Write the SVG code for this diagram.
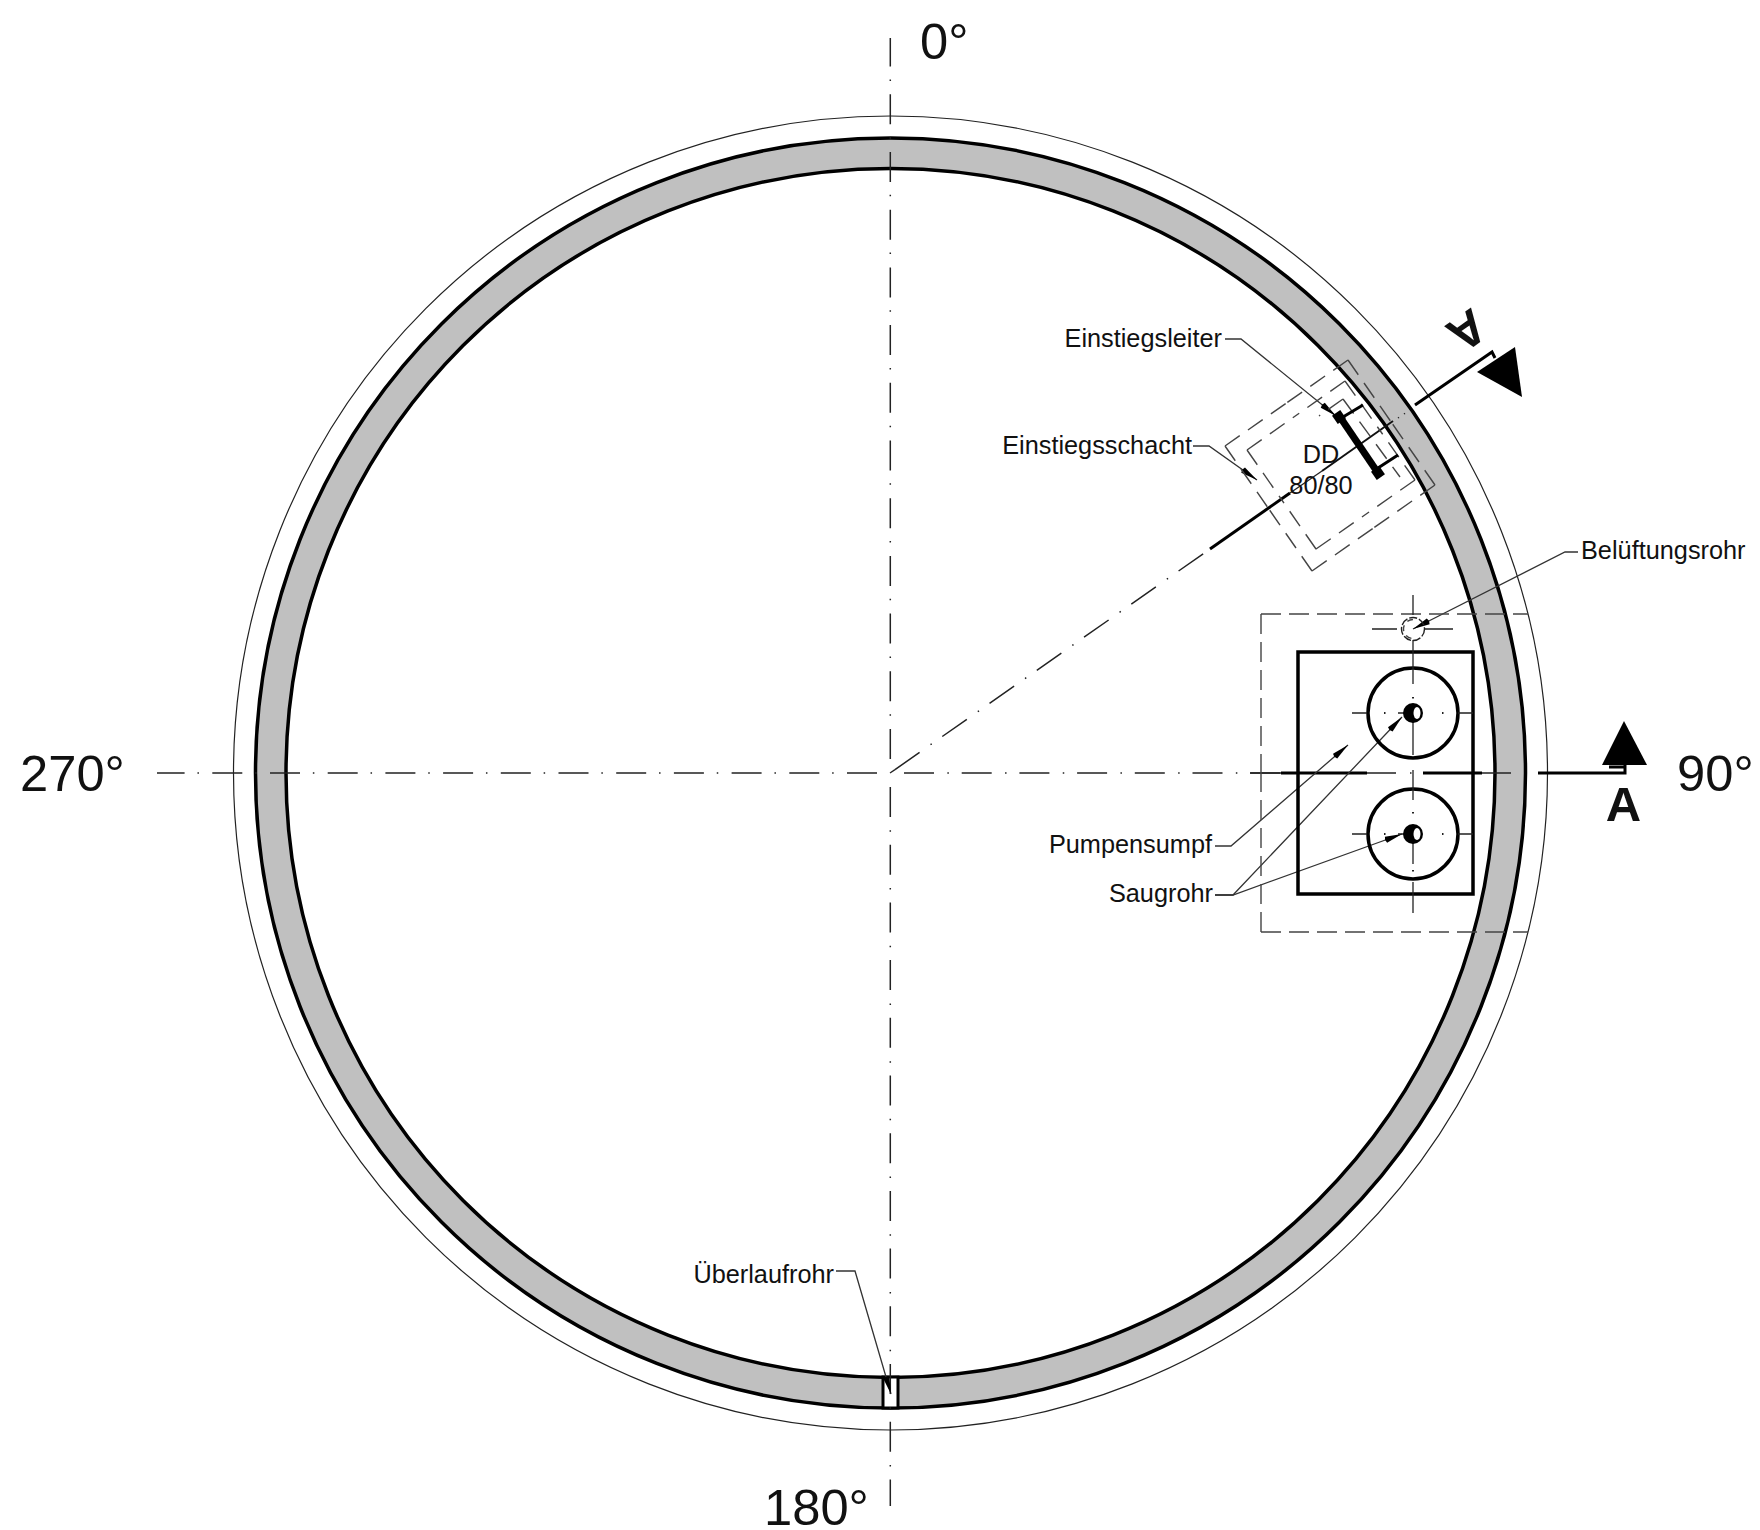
<svg xmlns="http://www.w3.org/2000/svg" width="1760" height="1530" viewBox="0 0 1760 1530">
<style>
text{font-family:"Liberation Sans",Arial,sans-serif;fill:#111}
.l{font-size:25.3px}.b{font-size:50.7px}
.hv{font-size:49px;font-weight:bold}
.th{stroke:#222;stroke-width:1.3;fill:none}
.cd{stroke:#222;stroke-width:1.5;fill:none;stroke-dasharray:30 13.35 1.5 12.85}
.ds{stroke:#444;stroke-width:1.4;fill:none;stroke-dasharray:18 10}
.k{stroke:#000;stroke-width:3;fill:none}
.k2{stroke:#111;stroke-width:2;fill:none}
.ld{stroke:#333;stroke-width:1.3;fill:none;marker-end:url(#ah)}
.pt{stroke:#222;stroke-width:1.5;fill:none;stroke-dasharray:1.5 60}
</style>
<defs>
<marker id="ah" markerUnits="userSpaceOnUse" markerWidth="20" markerHeight="8" refX="20" refY="4" orient="auto" viewBox="0 0 20 8"><path d="M2 4L3 0.8L20 4L3 7.2Z" fill="#000"/></marker>
</defs>
<rect width="1760" height="1530" fill="#fff"/>
<g id="ring">
<circle cx="890.5" cy="773" r="657" fill="none" stroke="#222" stroke-width="1.2"/>
<circle cx="890.5" cy="773" r="619.75" fill="none" stroke="#c0c0c0" stroke-width="30"/>
<circle cx="890.5" cy="773" r="635" fill="none" stroke="#000" stroke-width="3.5"/>
<circle cx="890.5" cy="773" r="604.5" fill="none" stroke="#000" stroke-width="3.5"/>
</g>
<g id="ueberlauf"><rect x="883" y="1377" width="15" height="31" fill="#fff" stroke="#000" stroke-width="3"/></g>
<g id="connectors">
<path class="cd" d="M890.3 759V38"/>
<path class="cd" d="M890.3 787V1506"/>
<path class="cd" d="M904 773H1281"/>
<path class="cd" d="M877 773H157"/>
<path class="th" d="M890 773L895 769.6"/>
<path class="cd" d="M895 769.6L1210 549"/>
<path class="k" d="M1210 549L1290 493"/>
<path class="th" d="M1290 493L1322 471"/>
<path class="k2" d="M1322 471L1393 421"/>
<path class="pt" d="M1398 418L1399 417.3"/>
<path class="pt" d="M1404 414L1405 413.3"/>
<path class="k" d="M1415 405L1492 352L1495 358"/>
<path class="k" d="M1281 773H1367M1423 773H1482M1538 773H1625V765M1609 767H1625"/>
<path class="th" d="M1250 773H1281M1367 773H1396M1482 773H1511"/>
<path class="pt" d="M1410 773H1411.5"/>
<path class="ld" d="M1225 339H1241L1336 416"/>
<path class="ld" d="M1193 446H1209L1257 480"/>
<path class="ld" d="M1578 552H1565L1413 629"/>
<path class="ld" d="M1215 846H1231L1348 745"/>
<path class="ld" d="M1215 895H1233L1402 717"/>
<path class="ld" d="M1215 895H1233L1402 834"/>
<path class="ld" d="M836 1271H855L891 1394"/>
</g>
<g id="schacht">
<path class="ds" d="M1348 360L1286.5 403M1225 446L1286.5 403M1225 446L1268.5 508.5M1312 571L1268.5 508.5M1312 571L1373.5 528M1435 485L1373.5 528M1435 485L1391.5 422.5M1348 360L1391.5 422.5"/>
<path class="ds" d="M1345 381L1296 415.5M1247 450L1296 415.5M1247 450L1281.5 499.5M1316 549L1281.5 499.5M1316 549L1365.5 514.5M1415 480L1365.5 514.5M1415 480L1380 430.5M1345 381L1380 430.5"/>
<path class="ds" d="M1343 399L1319 416M1343 399L1400 477"/>
</g>
<g id="leiter">
<path stroke="#000" stroke-width="7" fill="none" d="M1340 417L1378 473"/>
<rect x="1334" y="412" width="10" height="10" fill="#000" transform="rotate(-35 1339 417)"/>
<rect x="1373" y="468" width="10" height="10" fill="#000" transform="rotate(-35 1378 473)"/>
<path class="k" d="M1343 417L1363 405M1378 468L1398 455"/>
</g>
<g id="pumpensumpf">
<path class="ds" style="stroke-dasharray:20 8" d="M1261 614H1528M1261 932H1528M1261 614V773M1261 932V773"/>
<rect x="1298" y="652" width="175" height="242" fill="none" stroke="#000" stroke-width="3.5"/>
<circle cx="1413" cy="713" r="45" fill="none" stroke="#000" stroke-width="3.5"/>
<circle cx="1413" cy="834" r="45" fill="none" stroke="#000" stroke-width="3.5"/>
<path class="th" d="M1413 652V684M1413 722V755M1413 770V800M1413 843V864M1413 882V913M1352 713H1367M1398 713H1404M1458 713H1473M1352 834H1367M1398 834H1404M1458 834H1473"/>
<path class="pt" style="stroke-width:2" d="M1384 713h1.5M1442 713h1.5M1384 834h1.5M1442 834h1.5M1413 697v1.5M1413 812v1.5M1413 870v1.5"/>
<circle cx="1413" cy="713" r="10" fill="#000"/><ellipse cx="1417" cy="713" rx="3.5" ry="6" fill="#fff"/>
<circle cx="1413" cy="834" r="10" fill="#000"/><ellipse cx="1417" cy="834" rx="3.5" ry="6" fill="#fff"/>
</g>
<g id="belueftung">
<circle cx="1413" cy="629" r="11.5" class="ds" style="stroke:#222;stroke-dasharray:8 2"/>
<path class="ds" style="stroke-dasharray:6 5" d="M1413 619.5A9.5 9.5 0 0 0 1413 638.5"/>
<path class="th" d="M1413 595V615M1372 629H1397M1425 629H1453M1413 640V652"/>
</g>
<g id="schnitt">
<polygon points="1624,721 1602,765 1647,765" fill="#000"/>
<polygon points="1515,347 1477,372 1522,397" fill="#000"/>
<text class="hv" x="1623.5" y="821" text-anchor="middle">A</text>
<text class="hv" transform="translate(1457.5 317) rotate(145)" text-anchor="middle">A</text>
</g>
<g id="labels">
<text class="b" x="920" y="59">0°</text>
<text class="b" x="20" y="791">270°</text>
<text class="b" x="1677" y="791">90°</text>
<text class="b" x="764" y="1525">180°</text>
<text class="l" x="1222" y="347" text-anchor="end">Einstiegsleiter</text>
<text class="l" x="1192" y="454" text-anchor="end">Einstiegsschacht</text>
<text class="l" x="1321" y="463" text-anchor="middle">DD</text>
<text class="l" x="1321" y="494" text-anchor="middle">80/80</text>
<text class="l" x="1581" y="559">Belüftungsrohr</text>
<text class="l" x="1212" y="853" text-anchor="end">Pumpensumpf</text>
<text class="l" x="1213" y="902" text-anchor="end">Saugrohr</text>
<text class="l" x="834" y="1283" text-anchor="end">Überlaufrohr</text>
</g>
</svg>
